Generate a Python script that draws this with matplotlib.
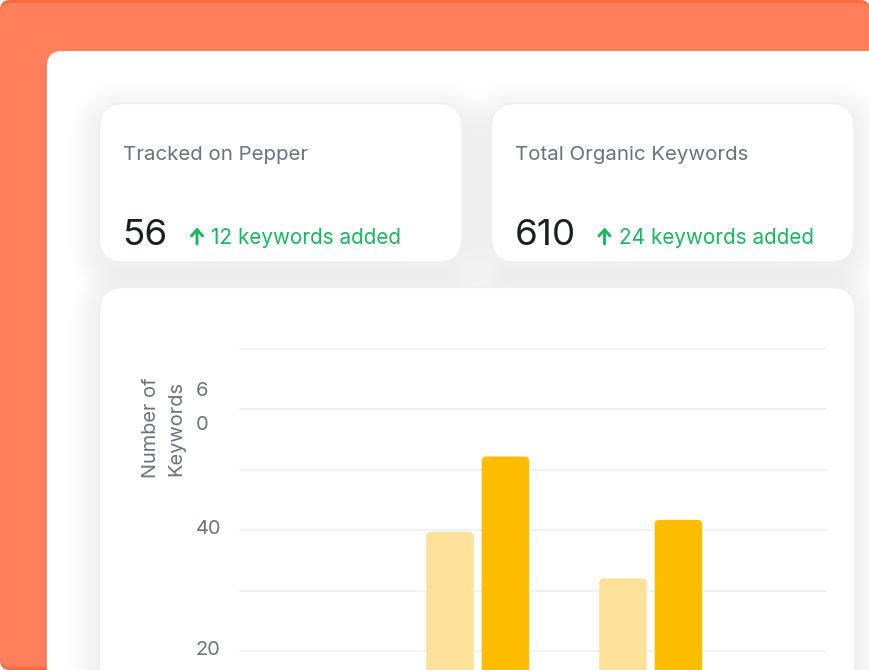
import matplotlib
matplotlib.use("Agg")
import matplotlib.pyplot as plt
from matplotlib.patches import FancyBboxPatch
from matplotlib.transforms import ScaledTranslation

plt.rcParams["font.family"] = ["Inter", "DejaVu Sans"]

GREY = "#68737F"
GREEN = "#1DB560"
DARK = "#1B1E23"

# chart data
groups = [0, 1]
tracked = [39.7, 32.0]
total = [52.2, 41.7]
tick_vals = [20, 30, 40, 50, 60, 70]
tick_labels = ["20", "", "40", "", "6\n0", ""]

# card texts
card_titles = ["Tracked on Pepper", "Total Organic Keywords"]
card_counts = ["56", "610"]
card_added = ["12 keywords added", "24 keywords added"]

fig = plt.figure(figsize=(8.7, 6.7), dpi=100, facecolor="white")
bg = fig.add_axes([0, 0, 1, 1])
bg.set_xlim(0, 870); bg.set_ylim(670, 0); bg.axis("off")


def rbox(x0, y0, x1, y1, r, **kw):
    p = FancyBboxPatch((x0, y0), x1 - x0, y1 - y0, boxstyle="round,pad=0,rounding_size=%g" % r, **kw)
    bg.add_patch(p)
    return p


def shadow(x0, y0, x1, y1, r):
    # soft drop shadow, stacked see-through boxes
    for s in range(1, 31, 2):
        rbox(x0 - 30 + s, y0 - 22 + s, x1 + 30 - s, y1 + 38 - s, r + 30 - s, fc="#8A9099", ec="none", alpha=0.0085)


# orange backdrop
rbox(0, 0, 870, 670, 10, fc="#FF6A3D", ec="none")
rbox(0, 3, 870, 667, 10, fc="#FF7F5C", ec="none")
rbox(47, 51, 950, 800, 15, fc="white", ec="none")

# cards
cards = [(99.5, 103.5, 462, 262), (491.5, 103.5, 854, 262), (99.5, 287.5, 855, 800)]
for c in cards:
    shadow(*c, 24)
for c in cards:
    rbox(*c, 24, fc="white", ec="#EEF0F1", lw=1)

for x, title, count, added, ax_x, tx_x in zip([123.5, 515.5], card_titles, card_counts, card_added, [197, 604.5], [211, 619.5]):
    bg.text(x, 155, title, fontsize=14.7, color=GREY, va="center", ha="left")
    bg.text(x - 1, 235.5, count, fontsize=26.5, color=DARK, va="center", ha="left")
    bg.text(tx_x, 238, added, fontsize=14.9, color=GREEN, va="center", ha="left")
    bg.annotate("", xy=(ax_x, 227.5), xytext=(ax_x, 244),
                arrowprops=dict(arrowstyle="->,head_length=0.45,head_width=0.4", color=GREEN, lw=2.1, shrinkA=0, shrinkB=0))

# bar chart, y from gridlines: 70 at 349 px, 20 at 651 px
ax = fig.add_axes([240 / 870, 0, 586 / 870, 321 / 670], facecolor="none")
ax.set_xlim(-1.374, 2.013)
ax.set_ylim(16.86, 70)
for s in ax.spines.values():
    s.set_visible(False)
ax.set_xticks([])
ax.set_yticks(tick_vals)
ax.set_yticklabels(tick_labels, ha="left", color=GREY, fontsize=14.4, linespacing=2.1)
ax.tick_params(axis="y", length=0, pad=32)
for lab in ax.get_yticklabels():
    # the wrapped 60 sits higher than the others
    up = 11 if "\n" in lab.get_text() else 3
    lab.set_transform(lab.get_transform() + ScaledTranslation(0, up / 100, fig.dpi_scale_trans))
ax.grid(axis="y", color="#EDEFF0", lw=1.1, clip_on=False)
ax.set_axisbelow(True)

w = 0.2746
asp = 173 / 6.04
for g, a, b in zip(groups, tracked, total):
    for xc, v, col in [(g - 0.16, a, "#FFE299"), (g + 0.16, b, "#FFBD00")]:
        bar = FancyBboxPatch((xc - w / 2, 0), w, v, boxstyle="round,pad=0,rounding_size=0.026", mutation_aspect=asp, fc=col, ec="none", zorder=3)
        ax.add_patch(bar)

bg.text(164, 428, "Number of\nKeywords", rotation=90, fontsize=14.4, color=GREY, ha="center", va="center", multialignment="center", linespacing=1.5)

fig.savefig("out.png", dpi=100)
